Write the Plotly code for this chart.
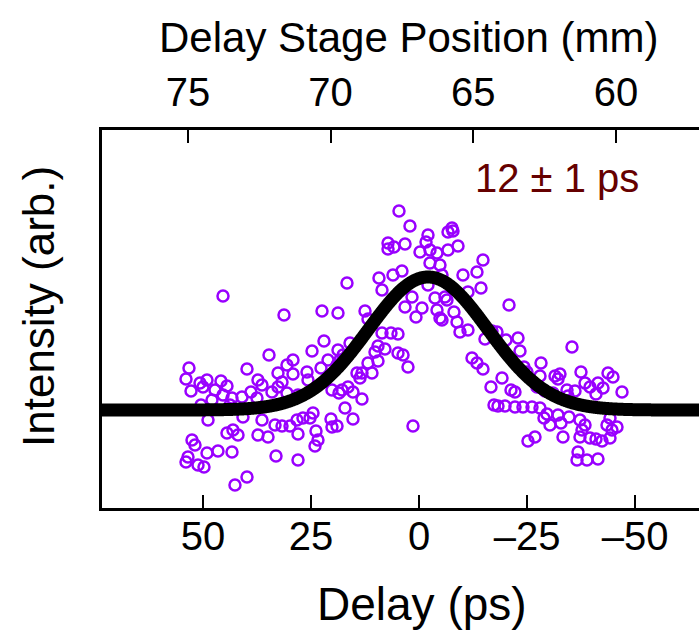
import numpy as np
import plotly.graph_objects as go

# ---- measured data (delay in ps, intensity in arb. units) ----
delay_ps = [
    45.36, 53.23, 39.81, 53.92, 50.68, 49.06, 45.83, 52.76, 49.99, 47.21, 44.44, 45.36,
    47.91, 40.97, 38.89, 50.45, 43.74, 48.83, 40.74, 52.53, 51.84, 44.44, 43.05, 41.89,
    53.46, 53.92, 49.06, 46.52, 43.28, 51.14, 49.76, 39.81, 42.59, 43.28,
    31.25, 22.46, 22.00, 24.77, 34.72, 29.17, 30.56, 21.07, 22.69, 25.93, 32.64, 29.17,
    25.70, 37.27, 36.34, 31.71, 32.64, 34.03, 30.56, 28.01, 37.50, 20.15, 36.34, 33.33,
    31.71, 29.86, 28.24, 26.86, 24.54, 20.38, 20.15, 37.27, 34.95, 28.01, 23.85, 23.39,
    24.08, 33.10, 28.01, 25.24,
    4.65, 2.11, 7.19, 7.19, 5.81, 3.26, 16.68, 9.28, 6.04, 3.96, 8.58, 18.76,
    12.51, 11.82, 3.26, 0.72, 8.58, 6.50, 4.88, 15.98, 9.51, 7.89, 10.20, 4.88,
    3.72, 18.76, 17.60, 18.30, 2.57, 9.51, 11.82, 10.90, 13.21, 18.99, 14.37, 13.67,
    16.45, 15.29, 17.83, 18.53, 13.21, 17.14, 15.29, 18.99, 1.41, 1.64,
    -6.69, -7.61, -7.84, -2.06, -1.60, -0.21, -2.52, -4.14, -6.69, -9.00, -2.52, -4.83,
    -5.30, -14.78, -13.39, -10.15, -14.32, -11.31, -2.06, -3.68, -5.99, -6.45, -0.67, -4.14,
    -4.83, -5.30, -8.07, -8.77, -9.46, -11.31, -15.24, -12.24, -13.39, -14.78, -16.63, -17.33,
    -20.80, -18.02, -16.86, -20.10, -22.88, -23.34, -35.37, -24.27, -24.96, -28.20, -27.97, -31.44,
    -32.59, -32.13, -19.18, -21.26, -22.18, -27.27, -29.12, -30.97, -34.21, -34.44, -36.06, -18.25,
    -19.87, -22.18, -24.03, -26.12, -27.97, -29.59, -28.89, -30.28, -32.13, -32.82, -34.68, -25.19,
    -26.81, -33.29,
    -37.45, -43.70, -44.85, -38.38, -39.53, -41.38, -42.54, -40.92, -46.94, -37.22, -38.38, -37.68,
    -44.16, -43.47, -45.78, -44.62, -37.22, -39.53, -40.92, -42.31, -44.16, -36.76, -36.53, -38.84,
    -41.38,
]
intensity = [
    1.14, 0.42, 0.41, 0.31, 0.27, 0.30, 0.29, 0.19, 0.23, 0.20, 0.24, 0.15,
    0.10, 0.13, 0.18, 0.05, 0.05, -0.10, -0.07, -0.30, -0.35, -0.23, -0.20, -0.25,
    -0.47, -0.52, -0.43, -0.41, -0.42, -0.55, -0.57, -0.67, -0.75, 0.12,
    0.95, 0.99, 0.69, 0.59, 0.55, 0.50, 0.45, 0.50, 0.42, 0.38, 0.37, 0.36,
    0.30, 0.30, 0.25, 0.28, 0.23, 0.18, 0.17, 0.15, 0.12, 0.20, -0.10, -0.15,
    -0.16, -0.16, -0.10, -0.08, -0.03, -0.09, -0.17, -0.25, -0.27, -0.24, -0.21, -0.30,
    -0.36, -0.46, -0.50, -0.08,
    1.99, 1.84, 1.67, 1.61, 1.63, 1.66, 1.27, 1.32, 1.35, 1.39, 1.20, 0.97,
    0.99, 0.91, 1.03, 0.93, 0.77, 0.77, 0.76, 0.67, 0.64, 0.61, 0.58, 0.57,
    0.55, 0.60, 0.55, 0.50, 0.43, 0.49, 0.47, 0.37, 0.37, 0.45, 0.37, 0.32,
    0.23, 0.18, 0.20, 0.17, 0.11, 0.02, -0.09, -0.16, -0.16, 1.13,
    1.78, 1.82, 1.79, 1.75, 1.68, 1.58, 1.60, 1.57, 1.60, 1.64, 1.47, 1.45,
    1.35, 1.50, 1.38, 1.35, 1.22, 1.18, 1.25, 1.12, 1.13, 1.10, 1.02, 1.00,
    0.92, 0.90, 0.98, 0.88, 0.78, 0.80, 0.71, 0.52, 0.47, 0.41, 0.23, 0.05,
    1.05, 0.78, 0.79, 0.70, 0.72, 0.59, 0.63, 0.43, 0.38, 0.47, 0.34, 0.34,
    0.36, 0.31, 0.32, 0.20, 0.18, 0.23, 0.19, 0.17, 0.20, 0.14, 0.19, 0.04,
    0.04, 0.03, 0.03, 0.03, 0.02, -0.04, -0.08, -0.15, -0.05, -0.13, -0.07, -0.31,
    -0.27, -0.27,
    0.38, 0.37, 0.33, 0.27, 0.23, 0.27, 0.22, 0.16, 0.18, -0.10, -0.15, -0.20,
    -0.08, -0.15, -0.17, -0.20, -0.27, -0.28, -0.29, -0.31, -0.28, -0.42, -0.50, -0.50,
    -0.49,
]

# Gaussian fit parameters
fit_amplitude = 1.33
fit_center_ps = -2.1
fit_sigma_ps = 13.8
fit_baseline = 0.0
fit_label = "12 ± 1 ps"

delay_tickvals = [50, 25, 0, -25, -50]
delay_ticktext = ["50", "25", "0", "\u201325", "\u201350"]
stage_tickvals = [75, 70, 65, 60]
stage_ticktext = ["75", "70", "65", "60"]

# ---- figure ----
W, H = 699, 630
ML, MR, MT, MB = 102, 0, 130, 122
x_range = [73.35, -64.75]
stage_range = [78.01, 57.09]
y_range = [-0.98, 2.80]
FONT = "Liberation Sans, Arial, Helvetica, sans-serif"

xf = np.linspace(x_range[0], x_range[1], 1200)
yf = fit_baseline + fit_amplitude * np.exp(-0.5 * ((xf - fit_center_ps) / fit_sigma_ps) ** 2)

fig = go.Figure()
fig.add_trace(go.Scatter(
    x=delay_ps, y=intensity, mode="markers",
    marker=dict(symbol="circle-open", size=11, color="#9900FF", line=dict(width=2.5)),
    showlegend=False, hoverinfo="skip"))
fig.add_trace(go.Scatter(
    x=xf, y=yf, mode="lines", line=dict(color="black", width=13, simplify=False),
    showlegend=False, hoverinfo="skip"))
fig.add_trace(go.Scatter(
    x=stage_range, y=[None, None], xaxis="x2", mode="markers",
    showlegend=False, hoverinfo="skip"))

axis_common = dict(showgrid=False, zeroline=False, showline=True, linecolor="black",
                   linewidth=2.5, ticks="inside", ticklen=13, tickwidth=2, tickcolor="black",
                   tickfont=dict(family=FONT, size=40, color="black"))

plot_w = W - ML - MR
plot_h = H - MT - MB

def px_x(px):
    return (px - ML) / plot_w

def px_y(py):
    return (H - MB - py) / plot_h

fig.update_layout(
    width=W, height=H,
    margin=dict(l=ML, r=MR, t=MT, b=MB, pad=0),
    paper_bgcolor="white", plot_bgcolor="white",
    xaxis=dict(range=x_range, tickvals=delay_tickvals, ticktext=delay_ticktext,
               ticklabelstandoff=-9, **axis_common),
    xaxis2=dict(range=stage_range, overlaying="x", side="top", anchor="y",
                tickvals=stage_tickvals, ticktext=stage_ticktext,
                ticklabelstandoff=5, **axis_common),
    yaxis=dict(range=y_range, showgrid=False, zeroline=False, showline=True,
               linecolor="black", linewidth=2.5, ticks="", showticklabels=False),
    annotations=[
        dict(text="Delay (ps)", xref="paper", yref="paper", x=px_x(422), y=px_y(604),
             xanchor="center", yanchor="middle", showarrow=False,
             font=dict(family=FONT, size=46, color="black")),
        dict(text="Delay Stage Position (mm)", xref="paper", yref="paper",
             x=px_x(409), y=px_y(37), xanchor="center", yanchor="middle", showarrow=False,
             font=dict(family=FONT, size=42, color="black")),
        dict(text="Intensity (arb.)", xref="paper", yref="paper", x=px_x(38), y=px_y(307),
             xanchor="center", yanchor="middle", showarrow=False, textangle=-90,
             font=dict(family=FONT, size=44, color="black")),
        dict(text=fit_label, xref="paper", yref="paper", x=px_x(557), y=px_y(178),
             xanchor="center", yanchor="middle", showarrow=False,
             font=dict(family=FONT, size=40, color="#660000")),
    ],
)

fig.write_html("out.html")
